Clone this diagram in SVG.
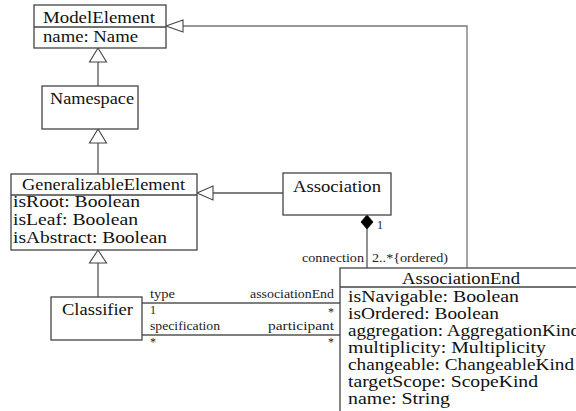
<svg xmlns="http://www.w3.org/2000/svg" width="576" height="411" viewBox="0 0 576 411" font-family="'Liberation Serif', 'Times New Roman', Times, 'DejaVu Serif', serif">
<style>
.box{fill:#fff;stroke:#444;stroke-width:1.3}
.ln{fill:none;stroke:#555;stroke-width:1.3}
.gen{fill:#fff;stroke:#444;stroke-width:1.1}
.t{font-family:'Liberation Serif', 'Times New Roman', Times, 'DejaVu Serif', serif;font-size:16px;fill:#111}
.s{font-family:'Liberation Serif', 'Times New Roman', Times, 'DejaVu Serif', serif;font-size:12px;fill:#222}
</style>
<rect width="576" height="411" fill="#fff"/>
<g id="connectors">
  <path class="ln" d="M98,62 V86"/>
  <path class="ln" d="M98,143 V174"/>
  <path class="ln" d="M98,263 V297"/>
  <path class="ln" d="M213,193 H283"/>
  <path class="ln" style="stroke:#777" d="M183,26 H467 V268"/>
  <path class="ln" d="M367,229 V268"/>
  <path class="ln" d="M142,303 H340"/>
  <path class="ln" d="M142,335 H340"/>
  <polygon class="gen" points="98,48 106.5,62 89.5,62"/>
  <polygon class="gen" points="98,129 106.5,143 89.5,143"/>
  <polygon class="gen" points="98,250 106.5,263 89.5,263"/>
  <polygon class="gen" points="197,193 213,186 213,200"/>
  <polygon class="gen" points="166,26 183,20 183,32"/>
  <polygon fill="#000" stroke="#000" stroke-width="0.8" points="367,215 373,222 367,229 361,222"/>
  <text class="s" x="377" y="229">1</text>
  <text class="s" x="364" y="262" text-anchor="end" textLength="62" lengthAdjust="spacingAndGlyphs">connection</text>
  <text class="s" x="372" y="262" textLength="76" lengthAdjust="spacingAndGlyphs">2..*{ordered)</text>
  <text class="s" x="150" y="298" textLength="25" lengthAdjust="spacingAndGlyphs">type</text>
  <text class="s" x="150" y="314">1</text>
  <text class="s" x="334" y="298" text-anchor="end" textLength="84" lengthAdjust="spacingAndGlyphs">associationEnd</text>
  <text class="s" x="334" y="316" text-anchor="end">*</text>
  <text class="s" x="150" y="330" textLength="70" lengthAdjust="spacingAndGlyphs">specification</text>
  <text class="s" x="334" y="330" text-anchor="end" textLength="66" lengthAdjust="spacingAndGlyphs">participant</text>
  <text class="s" x="150" y="346">*</text>
  <text class="s" x="334" y="346" text-anchor="end">*</text>
</g>
<g id="ModelElement">
  <rect class="box" x="34" y="5" width="132" height="43"/>
  <line class="box" x1="34" y1="27" x2="166" y2="27"/>
  <text class="t" x="43" y="23" textLength="112" lengthAdjust="spacingAndGlyphs">ModelElement</text>
  <text class="t" x="43" y="42" textLength="95" lengthAdjust="spacingAndGlyphs">name: Name</text>
</g>
<g id="Namespace">
  <rect class="box" x="42" y="86" width="96" height="43"/>
  <text class="t" x="50" y="104" textLength="84" lengthAdjust="spacingAndGlyphs">Namespace</text>
</g>
<g id="GeneralizableElement">
  <rect class="box" x="11" y="174" width="186" height="76"/>
  <line class="box" x1="11" y1="195" x2="197" y2="195"/>
  <text class="t" x="22" y="190" textLength="163" lengthAdjust="spacingAndGlyphs">GeneralizableElement</text>
  <text class="t" x="13" y="207" textLength="127" lengthAdjust="spacingAndGlyphs">isRoot: Boolean</text>
  <text class="t" x="13" y="225" textLength="125" lengthAdjust="spacingAndGlyphs">isLeaf: Boolean</text>
  <text class="t" x="13" y="243" textLength="154" lengthAdjust="spacingAndGlyphs">isAbstract: Boolean</text>
</g>
<g id="Association">
  <rect class="box" x="283" y="173" width="108" height="42"/>
  <text class="t" x="293" y="192" textLength="88" lengthAdjust="spacingAndGlyphs">Association</text>
</g>
<g id="Classifier">
  <rect class="box" x="51" y="297" width="91" height="43"/>
  <text class="t" x="62" y="315" textLength="71" lengthAdjust="spacingAndGlyphs">Classifier</text>
</g>
<g id="AssociationEnd">
  <rect class="box" x="340" y="268" width="250" height="160"/>
  <line class="box" x1="340" y1="287" x2="590" y2="287"/>
  <text class="t" x="402" y="284" textLength="118" lengthAdjust="spacingAndGlyphs">AssociationEnd</text>
  <text class="t" x="348" y="302" textLength="171" lengthAdjust="spacingAndGlyphs">isNavigable: Boolean</text>
  <text class="t" x="348" y="319" textLength="151" lengthAdjust="spacingAndGlyphs">isOrdered: Boolean</text>
  <text class="t" x="348" y="336" textLength="232" lengthAdjust="spacingAndGlyphs">aggregation: AggregationKind</text>
  <text class="t" x="348" y="353" textLength="198" lengthAdjust="spacingAndGlyphs">multiplicity: Multiplicity</text>
  <text class="t" x="348" y="370" textLength="226" lengthAdjust="spacingAndGlyphs">changeable: ChangeableKind</text>
  <text class="t" x="348" y="387" textLength="190" lengthAdjust="spacingAndGlyphs">targetScope: ScopeKind</text>
  <text class="t" x="348" y="404" textLength="102" lengthAdjust="spacingAndGlyphs">name: String</text>
</g>
</svg>
